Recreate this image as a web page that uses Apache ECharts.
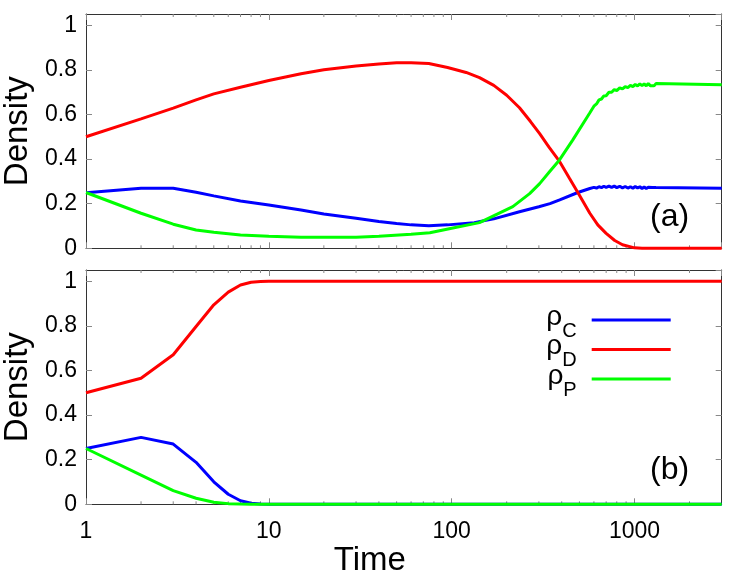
<!DOCTYPE html>
<html>
<head>
<meta charset="utf-8">
<script src="https://cdn.jsdelivr.net/npm/echarts@6/dist/echarts.min.js"></script>
<style>html,body{margin:0;padding:0;background:#fff}#c{width:747px;height:579px}</style>
</head>
<body>
<div id="c"></div>
<script>
// ---------- Panel (a) ----------
const tA_C = [1,2,3,4,5,7,10,15,20,30,40,50,60,75,95,133,170,235,300,345,390,490,570,600,620,640,660,680,700,725,750,775,800,830,860,890,920,950,980,1010,1040,1070,1100,1130,1160,1190,1220,1250,1280,1310,1330,3000];
const rhoA_C = [0.249,0.269,0.269,0.251,0.235,0.212,0.194,0.172,0.154,0.135,0.120,0.111,0.105,0.101,0.105,0.115,0.132,0.164,0.186,0.200,0.217,0.250,0.268,0.273,0.270,0.276,0.272,0.278,0.273,0.279,0.273,0.279,0.272,0.278,0.271,0.277,0.270,0.276,0.269,0.277,0.270,0.276,0.268,0.275,0.268,0.274,0.267,0.273,0.266,0.272,0.268,0.269];

const tA_D = [1,2,3,4,5,7,10,15,20,30,40,50,60,75,95,120,142,170,200,235,270,303,340,390,440,490,570,630,700,780,860,1000,1100,3000];
const rhoA_D = [0.500,0.580,0.628,0.665,0.692,0.722,0.752,0.782,0.800,0.817,0.826,0.831,0.832,0.828,0.810,0.788,0.765,0.730,0.686,0.630,0.568,0.514,0.455,0.388,0.315,0.250,0.157,0.105,0.067,0.035,0.016,0.002,0.000,0.000];

const tA_P = [1,2,3,4,5,7,10,15,20,30,40,60,76,100,142,216,267,303,343,389,460,568,600,620,640,660,680,700,725,750,775,800,830,860,890,920,950,980,1010,1040,1070,1100,1130,1160,1190,1220,1250,1280,1310,1330,3000];
const rhoA_P = [0.250,0.157,0.108,0.082,0.072,0.060,0.054,0.049,0.049,0.050,0.054,0.063,0.070,0.090,0.115,0.187,0.245,0.290,0.343,0.396,0.486,0.605,0.637,0.647,0.665,0.669,0.683,0.684,0.699,0.699,0.711,0.707,0.719,0.714,0.725,0.720,0.730,0.725,0.734,0.728,0.737,0.729,0.737,0.728,0.738,0.729,0.737,0.728,0.738,0.733,0.733];

// ---------- Panel (b) ----------
const tB = [1,2,3,4,5,6,7,8,9,10,20,3000];
const rhoB_C = [0.250,0.300,0.270,0.188,0.101,0.045,0.016,0.005,0.001,0,0,0];
const rhoB_D = [0.500,0.565,0.670,0.797,0.894,0.951,0.983,0.995,0.998,1.0,1.0,1.0];
const rhoB_P = [0.250,0.131,0.061,0.027,0.009,0.003,0.001,0,0,0,0,0];

// ---------- Axes ----------
const xMin = 1, xMax = 3000;
const yMin = 0, yMax = 1.05, yStep = 0.2;
const minorTickValues = [2,3,4,5,6,7,8,9,20,30,40,50,60,70,80,90,200,300,400,500,600,700,800,900,2000];
const seriesNames = ['C','D','P'];
const seriesColors = {C:'#0000ff', D:'#ff0000', P:'#00ff00'};

const FONT = 'Liberation Sans, Arial, Helvetica, sans-serif';
const BORDER = '#333';
const TICK = '#888';

function pairs(t, v){ return t.map((x,i)=>[x, v[i]]); }

const grids = [
  {left:86, top:14, right:25.3, height:234.3, outerBoundsMode:'none', containLabel:false},
  {left:86, top:270, right:25.3, height:234.3, outerBoundsMode:'none', containLabel:false}
];

const xAxes = [], yAxes = [];
grids.forEach((g, gi) => {
  const isBottom = gi === 1;
  xAxes.push({
    type:'log', logBase:10, min:xMin, max:xMax, gridIndex:gi, position:'bottom',
    axisLine:{show:true, onZero:false, lineStyle:{color:BORDER, width:1}},
    axisTick:{show:true, inside:true, length:6, lineStyle:{color:TICK}},
    splitLine:{show:false},
    axisLabel:{show:isBottom, showMaxLabel:false, margin:16, color:'#000', fontSize:23, fontFamily:FONT,
      formatter:v=>String(Math.round(v))},
    name: isBottom ? 'Time' : '',
    nameLocation:'middle', nameGap:23,
    nameTextStyle:{fontSize:33, fontFamily:FONT, color:'#000', padding:[0,68,0,0]}
  });
  xAxes.push({
    type:'log', logBase:10, min:xMin, max:xMax, gridIndex:gi, position:'top',
    axisLine:{show:true, onZero:false, lineStyle:{color:BORDER, width:1}},
    axisTick:{show:true, inside:true, length:6, lineStyle:{color:TICK}},
    splitLine:{show:false}, axisLabel:{show:false}
  });
  yAxes.push({
    type:'value', min:yMin, max:yMax, interval:yStep, gridIndex:gi, position:'left',
    axisLine:{show:true, onZero:false, lineStyle:{color:BORDER, width:1}},
    axisTick:{show:true, inside:true, length:6, lineStyle:{color:TICK}},
    splitLine:{show:false},
    axisLabel:{show:true, showMaxLabel:false, margin:9, color:'#000', fontSize:23, fontFamily:FONT},
    name:'Density', nameLocation:'middle', nameGap:52,
    nameTextStyle:{fontSize:33, fontFamily:FONT, color:'#000'}
  });
  yAxes.push({
    type:'value', min:yMin, max:yMax, interval:yStep, gridIndex:gi, position:'right',
    axisLine:{show:true, onZero:false, lineStyle:{color:BORDER, width:1}},
    axisTick:{show:true, inside:true, length:6, lineStyle:{color:TICK}},
    splitLine:{show:false}, axisLabel:{show:false}
  });
});

function lineSeries(name, data, gi){
  return {
    type:'line', name, data, xAxisIndex:gi*2, yAxisIndex:gi*2,
    showSymbol:false, symbol:'none', clip:false, animation:false,
    lineStyle:{width:3, color:seriesColors[name]}, itemStyle:{color:seriesColors[name]},
    z:3
  };
}

function minorTickSeries(gi){
  return {
    type:'custom', xAxisIndex:gi*2, yAxisIndex:gi*2, silent:true, animation:false, clip:false, z:1,
    data: minorTickValues.map(v=>[v, 0]),
    encode:{x:0, y:1},
    renderItem(params, api){
      const x = api.coord([api.value(0), yMin])[0];
      const yb = api.coord([api.value(0), yMin])[1];
      const yt = api.coord([api.value(0), yMax])[1];
      return {type:'group', children:[
        {type:'line', shape:{x1:x, y1:yb, x2:x, y2:yb-3}, style:{stroke:TICK, lineWidth:1}},
        {type:'line', shape:{x1:x, y1:yt, x2:x, y2:yt+3}, style:{stroke:TICK, lineWidth:1}}
      ]};
    }
  };
}

const series = [
  minorTickSeries(0), minorTickSeries(1),
  lineSeries('C', pairs(tA_C, rhoA_C), 0),
  lineSeries('D', pairs(tA_D, rhoA_D), 0),
  lineSeries('P', pairs(tA_P, rhoA_P), 0),
  lineSeries('C', pairs(tB, rhoB_C), 1),
  lineSeries('D', pairs(tB, rhoB_D), 1),
  lineSeries('P', pairs(tB, rhoB_P), 1)
];

const chart = echarts.init(document.getElementById('c'), null, {renderer:'canvas'});
chart.setOption({
  animation:false,
  backgroundColor:'#fff',
  grid: grids,
  xAxis: xAxes,
  yAxis: yAxes,
  legend:{
    data: seriesNames, orient:'vertical', align:'right', right:76.3, top:299, padding:0,
    itemWidth:79, itemHeight:3, itemGap:-12.5, icon:'rect', selectedMode:false,
    formatter: n => '{r|ρ}{s|' + n + '}',
    textStyle:{color:'#000', fontFamily:FONT,
      rich:{
        r:{fontSize:28, fontFamily:FONT, color:'#000', lineHeight:30, padding:[0,0,6,0]},
        s:{fontSize:20, fontFamily:FONT, color:'#000', lineHeight:30, padding:[22,10,0,0]}
      }}
  },
  graphic:[
    {type:'text', left:650, top:201, style:{text:'(a)', fontSize:32, fontFamily:FONT, fill:'#000'}},
    {type:'text', left:650, top:454, style:{text:'(b)', fontSize:32, fontFamily:FONT, fill:'#000'}}
  ],
  series
});
</script>
</body>
</html>
